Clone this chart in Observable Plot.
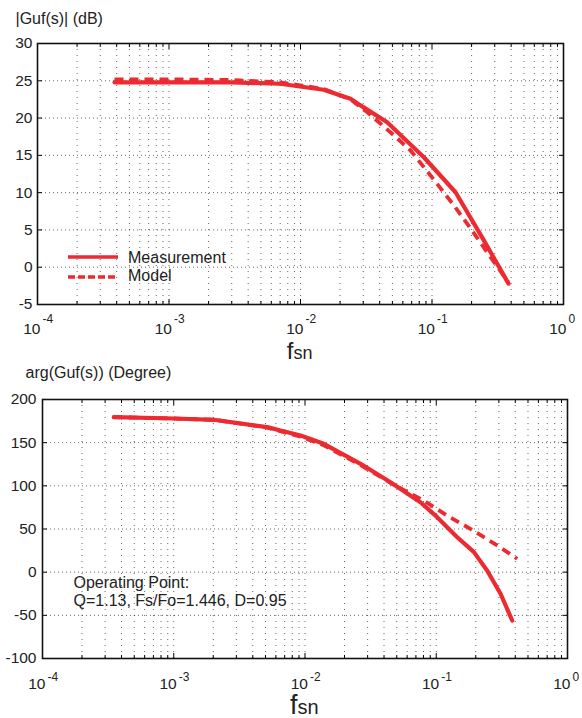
<!DOCTYPE html>
<html><head><meta charset="utf-8">
<script src="https://cdn.jsdelivr.net/npm/d3@7"></script>
<script src="https://cdn.jsdelivr.net/npm/@observablehq/plot@0.6"></script>
<style>
body{margin:0;background:#fff;}
#wrap{position:relative;width:582px;height:718px;overflow:hidden;}
#top,#bot{position:absolute;left:0;}
#top{top:0;} #bot{top:363px;}
#legend{position:absolute;left:0;top:0;}
</style></head><body>
<div id="wrap"><div id="top"></div><div id="bot"></div>
<svg id="legend" width="582" height="363"></svg></div>
<script>
// ---------- data ----------
const magMeasFreq  = [3.85e-4, 0.001, 0.003, 0.007, 0.015, 0.024, 0.0286, 0.0456, 0.0867, 0.151, 0.248, 0.382];
const magMeasDb    = [24.8, 24.8, 24.8, 24.6, 23.8, 22.6, 21.7, 19.45, 14.75, 10.05, 3.6, -2.2];
const magModelFreq = [3.85e-4, 0.001, 0.003, 0.007, 0.015, 0.024, 0.0321, 0.0513, 0.0687, 0.0975, 0.147, 0.202, 0.279, 0.38];
const magModelDb   = [25.2, 25.2, 25.1, 24.8, 23.9, 22.5, 20.8, 17.7, 15.65, 12.3, 8.28, 4.9, 1.35, -2.0];

const phMeasFreq  = [3.49e-4, 0.001, 0.00202, 0.00515, 0.0065, 0.00925, 0.0139, 0.0265, 0.0448, 0.0758, 0.1017, 0.1445, 0.193, 0.244, 0.309, 0.379];
const phMeasDeg   = [179.5, 178, 176.5, 168, 164, 158.3, 148.7, 125.5, 104.2, 81, 63.7, 40.5, 23.5, 1.9, -25, -56];
const phModelFreq = [3.49e-4, 0.001, 0.00202, 0.00515, 0.00925, 0.0139, 0.0265, 0.0448, 0.08, 0.121, 0.182, 0.291, 0.414];
const phModelDeg  = [179.5, 178, 176.5, 167.5, 157, 147, 124, 103.5, 83, 65.6, 50.2, 31, 15.5];

const decades = [1e-4, 1e-3, 1e-2, 1e-1, 1];
const decadeExponents = ["-4", "-3", "-2", "-1", "0"];
const minorMultipliers = [2, 3, 4, 5, 6, 7, 8, 9];
const magTicks = [-5, 0, 5, 10, 15, 20, 25, 30];
const phaseTicks = [-100, -50, 0, 50, 100, 150, 200];
const seriesNames = ["Measurement", "Model"];
const magTitle = "|Guf(s)| (dB)";
const phaseTitle = "arg(Guf(s)) (Degree)";
const opText = "Operating Point:\nQ=1.13, Fs/Fo=1.446, D=0.95";

// ---------- styling ----------
const RED = "#ec2a30";
const INK = "#222";
const FONT = '"Liberation Sans", Arial, Helvetica, sans-serif';
const minorTicks = decades.slice(0, -1).flatMap(d => minorMultipliers.map(m => m * d));
const allXTicks = [...decades, ...minorTicks];
const zip = (fs, vs) => fs.map((f, i) => ({f, v: vs[i]}));

function panel(o) {
  return Plot.plot({
    width: 582, height: o.height,
    marginLeft: o.ml, marginRight: o.mr, marginTop: o.mt, marginBottom: o.mb,
    style: {fontFamily: FONT, color: INK, background: "white", overflow: "visible"},
    x: {type: "log", domain: [1e-4, 1], label: null},
    y: {domain: o.yDomain, label: null},
    marks: [
      Plot.gridX(allXTicks, {stroke: "#000", strokeOpacity: 0.6, strokeDasharray: "1,5"}),
      Plot.gridY(o.yTicks, {stroke: "#000", strokeOpacity: 0.6, strokeDasharray: "1,3"}),
      Plot.line(zip(o.modelF, o.modelV), {x: "f", y: "v", stroke: RED, strokeWidth: 3.8, strokeDasharray: "9,6", strokeLinecap: "butt"}),
      Plot.line(zip(o.measF, o.measV), {x: "f", y: "v", stroke: RED, strokeWidth: 4.2}),
      Plot.axisX(decades, {anchor: "bottom", tickSize: -5, tickFormat: () => "", label: null, stroke: "#000"}),
      Plot.axisX(minorTicks, {anchor: "bottom", tickSize: -3, tickFormat: () => "", label: null, stroke: "#000"}),
      Plot.axisX(decades, {anchor: "top", tickSize: -5, tickFormat: () => "", label: null, stroke: "#000"}),
      Plot.axisX(minorTicks, {anchor: "top", tickSize: -3, tickFormat: () => "", label: null, stroke: "#000"}),
      Plot.axisY(o.yTicks, {anchor: "left", tickSize: -5, tickFormat: () => "", label: null, stroke: "#000"}),
      Plot.axisY(o.yTicks, {anchor: "right", tickSize: -5, tickFormat: () => "", label: null, stroke: "#000"}),
      Plot.axisY(o.yTicks, {anchor: "left", tickSize: 0, tickPadding: o.yPad, tickFormat: d => String(d), label: null, fontSize: 15.5, fill: INK}),
      Plot.frame({stroke: "#111", strokeWidth: 1.6}),
      Plot.text(decades, {x: d => d, text: () => "10", frameAnchor: "bottom", lineAnchor: "top", dy: o.tenDy, dx: 3, textAnchor: "end", fontSize: 15.5, fill: INK}),
      Plot.text(decades, {x: d => d, text: (d, i) => decadeExponents[i], frameAnchor: "bottom", lineAnchor: "top", dy: o.expDy, dx: 5, textAnchor: "start", fontSize: 12, fill: INK}),
      Plot.text(["f"], {frameAnchor: "bottom", lineAnchor: "bottom", dy: o.fDy, dx: o.fDx, textAnchor: "end", fontSize: o.fSize, fill: INK}),
      Plot.text(["sn"], {frameAnchor: "bottom", lineAnchor: "bottom", dy: o.fDy, dx: o.fDx, textAnchor: "start", fontSize: o.snSize, fill: INK}),
      Plot.text([o.title], {frameAnchor: "top-left", lineAnchor: "bottom", textAnchor: "start", dx: o.titleDx, dy: o.titleDy, fontSize: 16, fill: INK}),
      ...(o.extra || [])
    ]
  });
}

document.getElementById("top").append(panel({
  height: 363, mt: 43, mb: 59, ml: 37, mr: 19,
  yDomain: [-5, 30], yTicks: magTicks, yPad: 5,
  measF: magMeasFreq, measV: magMeasDb, modelF: magModelFreq, modelV: magModelDb,
  tenDy: 18, expDy: 10, fDy: 54, fDx: -7, fSize: 24, snSize: 18,
  title: magTitle, titleDx: -22, titleDy: -20
}));

document.getElementById("bot").append(panel({
  height: 355, mt: 36, mb: 60, ml: 42, mr: 15,
  yDomain: [-100, 200], yTicks: phaseTicks, yPad: 6,
  measF: phMeasFreq, measV: phMeasDeg, modelF: phModelFreq, modelV: phModelDeg,
  tenDy: 19, expDy: 14, fDy: 55, fDx: -7.5, fSize: 27, snSize: 20,
  title: phaseTitle, titleDx: -17, titleDy: -22,
  extra: [Plot.text([opText], {frameAnchor: "top-left", lineAnchor: "top", textAnchor: "start", dx: 31, dy: 176, fontSize: 16, lineHeight: 1.125, fill: INK})]
}));

// ---------- legend (top panel) ----------
const lg = d3.select("#legend").style("font-family", FONT);
const items = [
  {name: seriesNames[0], dash: null, y: 257, ty: 262.5},
  {name: seriesNames[1], dash: "7,3", y: 277, ty: 280.5}
];
items.forEach(it => {
  lg.append("line").attr("x1", 68).attr("x2", it.dash ? 115 : 118).attr("y1", it.y).attr("y2", it.y)
    .attr("stroke", RED).attr("stroke-width", 3.5).attr("stroke-dasharray", it.dash);
  lg.append("text").attr("x", 128).attr("y", it.ty).attr("font-size", 16).attr("fill", INK).text(it.name);
});
</script></body></html>
